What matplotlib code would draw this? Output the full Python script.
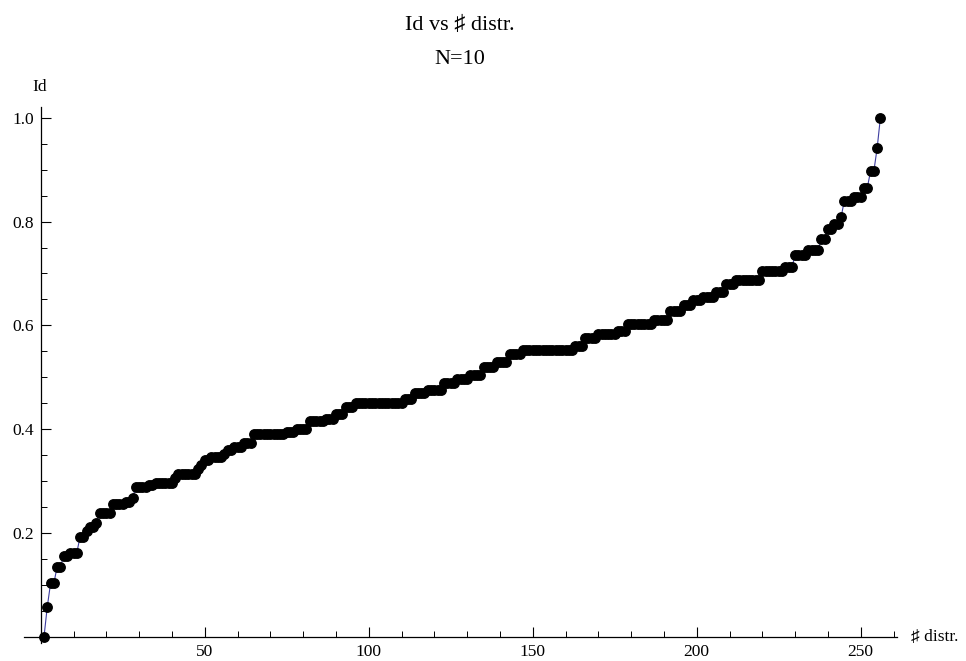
import numpy as np
import matplotlib.pyplot as plt
from matplotlib.ticker import MultipleLocator, FixedLocator

# Id values, stored as runs (value, how many distr. share it)
id_steps = [0.000, 0.058, 0.103, 0.135, 0.155, 0.162, 0.193, 0.205, 0.212, 0.220,
            0.238, 0.257, 0.260, 0.268, 0.288, 0.292, 0.296, 0.306, 0.313, 0.323,
            0.332, 0.340, 0.346, 0.352, 0.360, 0.366, 0.373, 0.391, 0.395, 0.400,
            0.415, 0.420, 0.430, 0.442, 0.450, 0.458, 0.470, 0.476, 0.490, 0.497,
            0.505, 0.520, 0.530, 0.545, 0.552, 0.560, 0.575, 0.583, 0.590, 0.602,
            0.610, 0.628, 0.640, 0.648, 0.655, 0.665, 0.680, 0.688, 0.705, 0.712,
            0.735, 0.745, 0.766, 0.786, 0.795, 0.808, 0.840, 0.848, 0.865, 0.897,
            0.941, 1.000]
step_len = [1, 1, 2, 2, 2, 3, 2, 1, 2, 1,
            4, 4, 2, 1, 4, 2, 6, 1, 6, 1,
            1, 2, 4, 1, 2, 3, 3, 10, 3, 4,
            5, 3, 3, 3, 15, 3, 4, 5, 4, 4,
            4, 4, 4, 4, 16, 3, 4, 6, 3, 8,
            5, 4, 3, 3, 4, 3, 3, 8, 7, 3,
            4, 4, 2, 2, 2, 1, 3, 3, 2, 2,
            1, 1]

id_vals = np.repeat(id_steps, step_len)
n_distr = np.arange(1, len(id_vals) + 1)

x_ticks = [50, 100, 150, 200, 250]
y_ticks = [0.2, 0.4, 0.6, 0.8, 1.0]

serif = ['Liberation Serif', 'DejaVu Serif', 'DejaVu Sans']
plt.rcParams['font.family'] = serif

fig = plt.figure(figsize=(9.66, 6.61), dpi=100)
ax = fig.add_axes([0.02516, 0.02693, 0.9032, 0.8107])

ax.plot(n_distr, id_vals, color='#3d3da0', lw=0.8,
        marker='o', markersize=6.8, markerfacecolor='black', markeredgecolor='black')

ax.set_xlim(-5, 261)
ax.set_ylim(-0.012, 1.02)

# Mathematica style axes crossing at the origin
for s in ['top', 'right']:
    ax.spines[s].set_visible(False)
ax.spines['left'].set_position(('data', 0))
ax.spines['bottom'].set_position(('data', 0))
ax.spines['left'].set_linewidth(0.9)
ax.spines['bottom'].set_linewidth(0.9)

ax.xaxis.set_major_locator(FixedLocator(x_ticks))
ax.xaxis.set_minor_locator(MultipleLocator(10))
ax.yaxis.set_major_locator(FixedLocator(y_ticks))
ax.yaxis.set_minor_locator(MultipleLocator(0.05))
ax.set_xticklabels([str(t) for t in x_ticks])
ax.set_yticklabels(['%.1f' % t for t in y_ticks])
ax.tick_params(which='major', direction='in', length=7.5, width=0.8, labelsize=12.5, pad=5)
ax.tick_params(which='minor', direction='in', length=4, width=0.7)
ax.patch.set_visible(False)

fig.text(40 / 966, 1 - 87 / 661, 'Id', ha='center', va='center', fontsize=12.5)
fig.text(911 / 966, 1 - 637 / 661, '\u266f distr.', ha='left', va='center', fontsize=12.5)

fig.text(460 / 966, 1 - 25 / 661, 'Id vs \u266f distr.', ha='center', va='center', fontsize=16)
fig.text(460 / 966, 1 - 60 / 661, 'N=10', ha='center', va='center', fontsize=16)

plt.savefig('out.png', dpi=100)
